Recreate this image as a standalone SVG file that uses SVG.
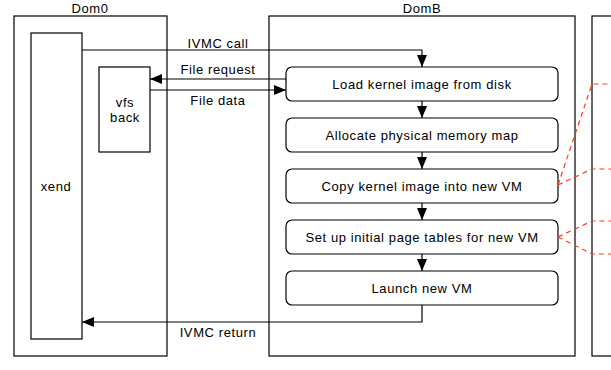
<svg xmlns="http://www.w3.org/2000/svg" width="611" height="370" viewBox="0 0 611 370">
  <style>
    .frame { fill: #fff; stroke: #000; stroke-width: 1.2; }
    .step { fill: #fff; stroke: #000; stroke-width: 1.2; }
    .wire { fill: none; stroke: #000; stroke-width: 1.2; }
    .map { fill: none; stroke: #ff3b1a; stroke-width: 1.2; stroke-dasharray: 5 4; }
    text { font-family: "Liberation Sans", Arial, sans-serif; font-size: 13px; letter-spacing: 0.6px; fill: #000; }
    .c { text-anchor: middle; }
  </style>
  <defs>
    <marker id="arrow" viewBox="0 0 12 10" refX="12" refY="5" markerWidth="12" markerHeight="10" markerUnits="userSpaceOnUse" orient="auto">
      <path d="M0,0 L12,5 L0,10 z" fill="#000"/>
    </marker>
  </defs>

  <rect width="611" height="370" fill="#fff"/>

  <!-- Domains -->
  <g id="dom0">
    <rect class="frame" x="14" y="16" width="153" height="340"/>
    <text class="c" x="90" y="13">Dom0</text>
  </g>
  <g id="domB">
    <rect class="frame" x="269" y="16" width="306" height="340"/>
    <text class="c" x="422" y="13">DomB</text>
  </g>
  <g id="domU">
    <rect class="frame" x="592" y="16" width="30" height="340"/>
  </g>

  <!-- Dom0 components -->
  <g id="xend">
    <rect class="frame" x="31" y="33" width="51" height="306"/>
    <text class="c" x="56" y="191">xend</text>
  </g>
  <g id="vfs-back">
    <rect class="frame" x="99" y="67" width="51" height="85"/>
    <text class="c" x="125" y="107">vfs</text>
    <text class="c" x="125" y="122">back</text>
  </g>

  <!-- DomB build steps -->
  <g id="load-kernel">
    <rect class="step" x="286" y="67" width="272" height="34" rx="6"/>
    <text class="c" x="422" y="88.5">Load kernel image from disk</text>
  </g>
  <g id="alloc-memory">
    <rect class="step" x="286" y="118" width="272" height="34" rx="6"/>
    <text class="c" x="422" y="139.5">Allocate physical memory map</text>
  </g>
  <g id="copy-kernel">
    <rect class="step" x="286" y="169" width="272" height="34" rx="6"/>
    <text class="c" x="422" y="190.5">Copy kernel image into new VM</text>
  </g>
  <g id="page-tables">
    <rect class="step" x="286" y="220" width="272" height="34" rx="6"/>
    <text class="c" x="422" y="241.5">Set up initial page tables for new VM</text>
  </g>
  <g id="launch-vm">
    <rect class="step" x="286" y="271" width="272" height="34" rx="6"/>
    <text class="c" x="422" y="292.5">Launch new VM</text>
  </g>

  <!-- Connectors -->
  <g id="connectors">
    <path class="wire" d="M82,50 H422 V67" marker-end="url(#arrow)"/>
    <text class="c" x="218" y="48">IVMC call</text>
    <path class="wire" d="M286,79 H150" marker-end="url(#arrow)"/>
    <text class="c" x="218" y="74">File request</text>
    <path class="wire" d="M150,90 H286" marker-end="url(#arrow)"/>
    <text class="c" x="218" y="105">File data</text>
    <path class="wire" d="M422,101 V118" marker-end="url(#arrow)"/>
    <path class="wire" d="M422,152 V169" marker-end="url(#arrow)"/>
    <path class="wire" d="M422,203 V220" marker-end="url(#arrow)"/>
    <path class="wire" d="M422,254 V271" marker-end="url(#arrow)"/>
    <path class="wire" d="M422,305 V322 H82" marker-end="url(#arrow)"/>
    <text class="c" x="218" y="337">IVMC return</text>

    <!-- memory mappings into the new VM -->
    <path class="map" d="M558,185 L592,84 H611"/>
    <path class="map" d="M558,185 L592,169 H611"/>
    <path class="map" d="M558,237 L592,221 H611"/>
    <path class="map" d="M558,237 L592,254 H611"/>
  </g>
</svg>
